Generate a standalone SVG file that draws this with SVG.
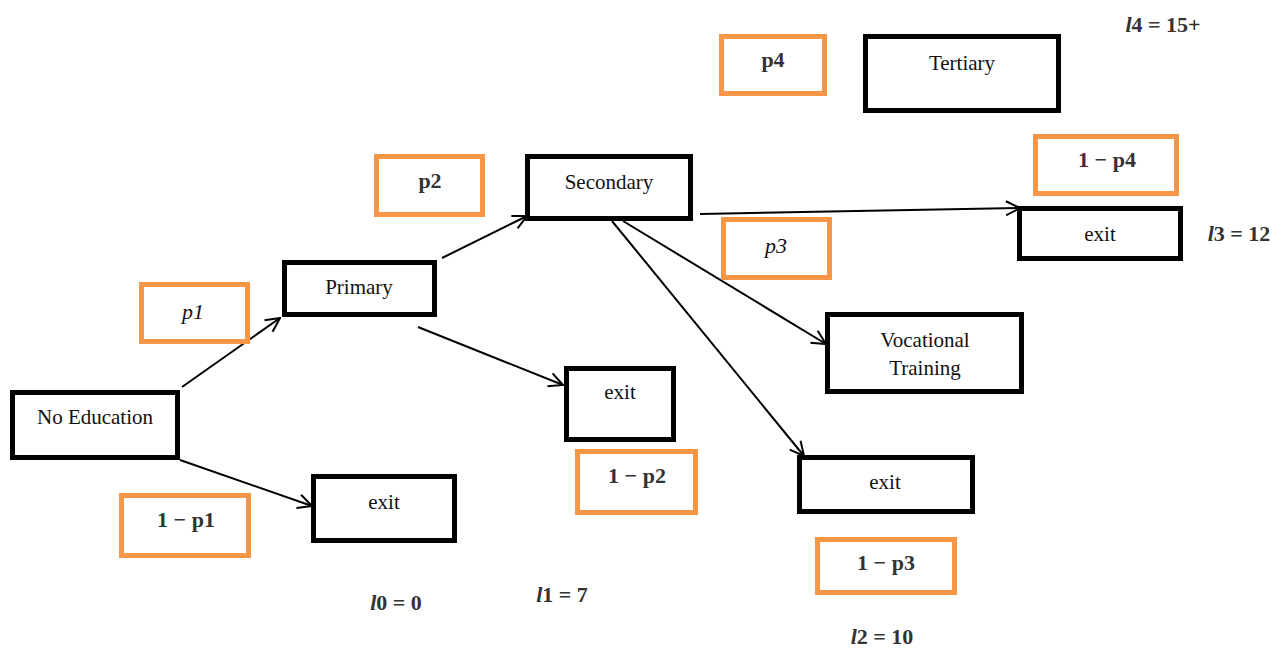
<svg xmlns="http://www.w3.org/2000/svg" width="1283" height="649" viewBox="0 0 1283 649">
<defs>
<style>
.node rect{fill:#fff;stroke:#000;stroke-width:5}
.prob rect{fill:#fff;stroke:#F79646;stroke-width:5}
.nt{font-family:'Liberation Serif','DejaVu Serif',serif;font-size:21px;fill:#111;text-anchor:middle}
.mt{font-family:'Liberation Serif','DejaVu Serif',serif;font-size:22px;font-weight:bold;fill:#333}
.mi{font-family:'Liberation Serif','DejaVu Serif',serif;font-size:22px;font-style:italic;fill:#111;text-anchor:middle}
.conn line{stroke:#000;stroke-width:2;fill:none}
</style>
<marker id="ah" viewBox="0 0 16 16" refX="15" refY="8" markerWidth="16" markerHeight="16" orient="auto" markerUnits="userSpaceOnUse">
<path d="M1,1 L15,8 L1,15" fill="none" stroke="#000" stroke-width="2"/>
</marker>
</defs>
<rect width="1283" height="649" fill="#fff"/>

<g id="connectors" class="conn">
<line x1="182" y1="387" x2="280" y2="318" marker-end="url(#ah)"/>
<line x1="180" y1="460" x2="312" y2="506" marker-end="url(#ah)"/>
<line x1="442" y1="258" x2="527" y2="216" marker-end="url(#ah)"/>
<line x1="418" y1="327" x2="563" y2="385" marker-end="url(#ah)"/>
<line x1="700" y1="214" x2="1020" y2="208" marker-end="url(#ah)"/>
<line x1="623" y1="221" x2="826" y2="344" marker-end="url(#ah)"/>
<line x1="612" y1="221" x2="804" y2="456" marker-end="url(#ah)"/>
</g>

<g id="no-education" class="node"><rect x="12.5" y="392.5" width="165" height="65"/><text class="nt" x="95" y="424" font-family="Liberation Serif, serif">No Education</text></g>
<g id="primary" class="node"><rect x="284.5" y="262.5" width="150" height="52"/><text class="nt" x="359" y="294">Primary</text></g>
<g id="secondary" class="node"><rect x="527.5" y="156.5" width="163" height="62"/><text class="nt" x="609" y="189">Secondary</text></g>
<g id="tertiary" class="node"><rect x="865.5" y="36.5" width="193" height="74"/><text class="nt" x="962" y="70">Tertiary</text></g>
<g id="vocational" class="node"><rect x="827.5" y="314.5" width="194" height="77"/><text class="nt" x="925" y="347">Vocational</text><text class="nt" x="925" y="375">Training</text></g>
<g id="exit0" class="node"><rect x="313.5" y="476.5" width="141" height="64"/><text class="nt" x="384" y="509">exit</text></g>
<g id="exit1" class="node"><rect x="566.5" y="368.5" width="107" height="71"/><text class="nt" x="620" y="399">exit</text></g>
<g id="exit2" class="node"><rect x="799.5" y="457.5" width="173" height="54"/><text class="nt" x="885" y="489">exit</text></g>
<g id="exit3" class="node"><rect x="1019.5" y="208.5" width="161" height="50"/><text class="nt" x="1100" y="241">exit</text></g>

<g id="p1" class="prob"><rect x="141.5" y="284.5" width="106" height="57"/><text class="mi" x="193" y="319">p1</text></g>
<g id="q1" class="prob"><rect x="121.5" y="495.5" width="127" height="60"/><text class="mt" x="186" y="527" text-anchor="middle">1 − p1</text></g>
<g id="p2" class="prob"><rect x="376.5" y="156.5" width="106" height="58"/><text class="mt" x="430" y="188" text-anchor="middle">p2</text></g>
<g id="q2" class="prob"><rect x="577.5" y="451.5" width="118" height="61"/><text class="mt" x="637" y="483" text-anchor="middle">1 − p2</text></g>
<g id="p3" class="prob"><rect x="723.5" y="219.5" width="106" height="58"/><text class="mi" x="776" y="253">p3</text></g>
<g id="q3" class="prob"><rect x="817.5" y="539.5" width="137" height="53"/><text class="mt" x="886" y="570" text-anchor="middle">1 − p3</text></g>
<g id="p4" class="prob"><rect x="721.5" y="36.5" width="103" height="57"/><text class="mt" x="773" y="67" text-anchor="middle">p4</text></g>
<g id="q4" class="prob"><rect x="1035.5" y="136.5" width="141" height="57"/><text class="mt" x="1107" y="167" text-anchor="middle">1 − p4</text></g>

<g id="levels">
<text class="mt" x="1163" y="32" text-anchor="middle"><tspan font-style="italic">l</tspan>4 = 15+</text>
<text class="mt" x="1239" y="241" text-anchor="middle"><tspan font-style="italic">l</tspan>3 = 12</text>
<text class="mt" x="396" y="610" text-anchor="middle"><tspan font-style="italic">l</tspan>0 = 0</text>
<text class="mt" x="562" y="602" text-anchor="middle"><tspan font-style="italic">l</tspan>1 = 7</text>
<text class="mt" x="882" y="644" text-anchor="middle"><tspan font-style="italic">l</tspan>2 = 10</text>
</g>
</svg>
